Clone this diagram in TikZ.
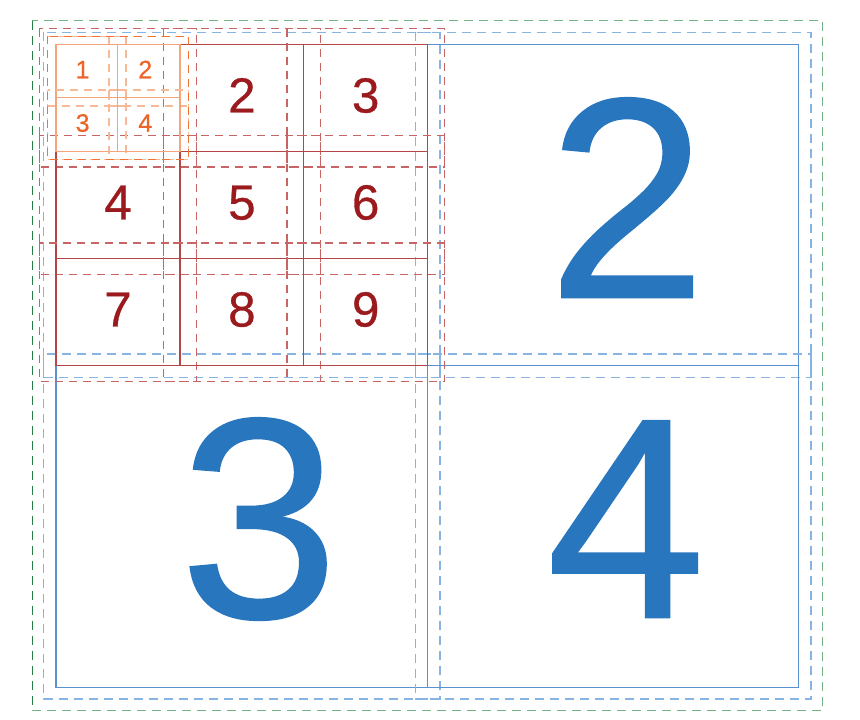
\documentclass[tikz,border=0pt]{standalone}
\usepackage{fontspec}
\setmainfont{Liberation Sans}
\newfontfamily\fbdigits{Liberation Sans}[FakeBold=0.6]
\definecolor{bsolid}{RGB}{90,145,208}
\definecolor{bdash}{RGB}{135,180,226}
\definecolor{gdash}{RGB}{115,178,130}
\definecolor{gdark}{RGB}{40,125,70}
\definecolor{rsolid}{RGB}{180,70,70}
\definecolor{rdash}{RGB}{200,100,100}
\definecolor{osolid}{RGB}{246,165,120}
\definecolor{odash}{RGB}{242,115,50}
\definecolor{odashl}{RGB}{248,185,150}
\definecolor{rtext}{RGB}{155,26,30}
\definecolor{otext}{RGB}{236,100,40}
\definecolor{btext}{RGB}{40,118,190}
\tikzset{
  bluesolid/.style={draw=bsolid, line width=0.9pt},
  bluedash/.style={draw=bdash, line width=1pt, dash pattern=on 6.75pt off 4.5pt},
  greendash/.style={draw=gdash, line width=1pt, dash pattern=on 6.75pt off 4.5pt},
  greendark/.style={draw=gdark, line width=1pt, dash pattern=on 6.75pt off 4.5pt},
  redsolid/.style={draw=rsolid, line width=0.85pt},
  reddash/.style={draw=rdash, line width=0.95pt, dash pattern=on 6pt off 4.5pt},
  orangesolid/.style={draw=osolid, line width=0.85pt},
  orangedash/.style={draw=odashl, line width=0.95pt, dash pattern=on 6pt off 4.5pt},
  orangeouter/.style={draw=odash, line width=1pt, dash pattern=on 6pt off 4.5pt},
  bigdigit/.style={text=btext, inner sep=0pt, anchor=base, font=\fbdigits\fontsize{214.5pt}{214.5pt}\selectfont},
  middigit/.style={text=rtext, inner sep=0pt, anchor=base, font=\fbdigits\fontsize{37pt}{37pt}\selectfont},
  smalldigit/.style={text=otext, inner sep=0pt, anchor=base, font=\fbdigits\fontsize{18.9pt}{18.9pt}\selectfont},
}
% x1 y1 x2 y2 dx dy style-prefix
\newcommand\mkcell[7]{%
  \draw[#7dash] (#1-#5,#2-#6) rectangle (#3+#5,#4+#6);
  \draw[#7solid] (#1,#2) rectangle (#3,#4);
}
\begin{document}
\begin{tikzpicture}[x=0.75pt,y=-0.75pt]
\useasboundingbox (0,0) rectangle (860,720);
% outer container margin box
\draw[greendash] (32.3,20.7) rectangle (822.7,710.7);
\draw[greendark] (32.3,20.7) -- (32.3,710.7);
% blue 2x2 grid
\mkcell{56}{44.3}{427.7}{365.7}{12.2}{11.8}{blue}
\mkcell{427.7}{44.3}{798.7}{365.7}{12.2}{11.8}{blue}
\mkcell{56}{365.7}{427.7}{687.3}{12.2}{11.8}{blue}
\mkcell{427.7}{365.7}{798.7}{687.3}{12.2}{11.8}{blue}
% red 3x3 grid
\foreach \xa/\xb in {56/180,180/303.8,303.8/427.7}{
  \foreach \ya/\yb in {44.3/151.4,151.4/258.6,258.6/365.7}{
    \mkcell{\xa}{\ya}{\xb}{\yb}{16.8}{15.7}{red}
  }
}
% orange 2x2 grid
\foreach \xa/\xb in {56/117.5,117.5/180}{
  \foreach \ya/\yb in {44.3/97.9,97.9/151.4}{
    \mkcell{\xa}{\ya}{\xb}{\yb}{8.5}{8}{orange}
  }
}
\draw[orangeouter] (47.5,36.3) rectangle (188.5,159.4);
% digits
\node[smalldigit] (o1) at (82.6,78.3) {1};
\node[smalldigit] (o2) at (145.3,78.3) {2};
\node[smalldigit] (o3) at (82.6,131.7) {3};
\node[smalldigit] (o4) at (145.3,131.7) {4};
\node[middigit] (r2) at (241.9,112.5) {2};
\node[middigit] (r3) at (365.7,112.5) {3};
\node[middigit] (r4) at (118,219.5) {4};
\node[middigit] (r5) at (241.9,219.5) {5};
\node[middigit] (r6) at (365.7,219.5) {6};
\node[middigit] (r7) at (118,326.5) {7};
\node[middigit] (r8) at (241.9,326.5) {8};
\node[middigit] (r9) at (365.7,326.5) {9};
\node[bigdigit] (b2) at (627,297.5) {2};
\node[bigdigit] (b3) at (259,617.5) {3};
\node[bigdigit] (b4) at (626,617.5) {4};
\end{tikzpicture}
\end{document}
